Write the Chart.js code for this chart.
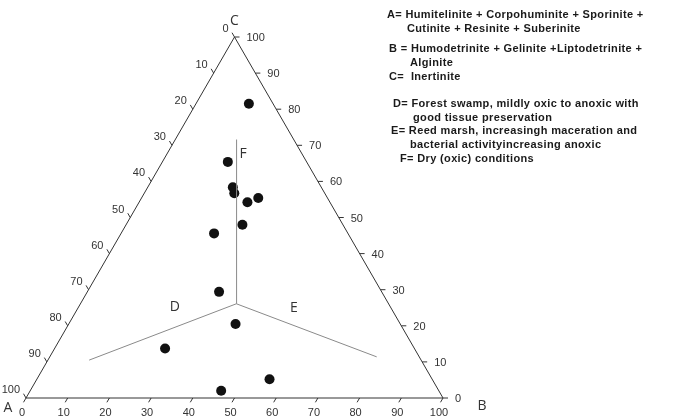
<!DOCTYPE html>
<html>
<head>
<meta charset="utf-8">
<script src="https://cdn.jsdelivr.net/npm/chart.js@4.4.1/dist/chart.umd.min.js"></script>
<style>
  body { margin: 0; background: #fff; }
  canvas { display: block; }
</style>
</head>
<body>
<canvas id="ternaryChart" width="685" height="418"></canvas>
<script>
// tick labels on each side of the triangle
const axisTicks = [0, 10, 20, 30, 40, 50, 60, 70, 80, 90, 100];

// samples, in % of A, B, C
const sampleA = [5.8, 18.9, 21.2, 21.7, 19.8, 16.6, 24.1, 32.1, 39.0, 39.5, 59.8, 52.2, 39.0];
const sampleB = [12.7, 15.7, 20.4, 21.6, 26.0, 28.0, 27.9, 22.3, 31.6, 40.0, 26.5, 45.8, 55.8];
const sampleC = [81.5, 65.4, 58.4, 56.7, 54.2, 55.4, 48.0, 45.6, 29.4, 20.5, 13.7, 2.0, 5.2];

// facies field boundaries: all start at a common junction
const junctionABC = [36.5, 37.4, 26.1];
const boundaryNames = ['F', 'D', 'E'];
const boundaryEndA = [13.7, 79.6, 10.2];
const boundaryEndB = [14.7, 9.9, 78.4];
const boundaryEndC = [71.6, 10.5, 11.4];

const legendLines = [
    'A= Humitelinite + Corpohuminite + Sporinite +',
    'Cutinite + Resinite + Suberinite',
    'B = Humodetrinite + Gelinite +Liptodetrinite +',
    'Alginite',
    'C=  Inertinite',
    'D= Forest swamp, mildly oxic to anoxic with',
    'good tissue preservation',
    'E= Reed marsh, increasingh maceration and',
    'bacterial activityincreasing anoxic',
    'F= Dry (oxic) conditions'
];

const H = Math.sqrt(3) / 2;
function tern(a, b, c) {
    const s = a + b + c;
    return { x: (b + c / 2) / s * 100, y: (c / s) * 100 * H };
}

const samples = sampleA.map((a, i) => tern(a, sampleB[i], sampleC[i]));
const junction = tern(junctionABC[0], junctionABC[1], junctionABC[2]);
const boundarySets = boundaryNames.map((name, i) => ({
    label: 'boundary ' + name,
    data: [junction, tern(boundaryEndA[i], boundaryEndB[i], boundaryEndC[i])],
    showLine: true,
    borderColor: '#8a8a8a',
    borderWidth: 1,
    pointRadius: 0,
    clip: false
}));

const frame = {
    label: 'frame',
    data: [tern(100, 0, 0), tern(0, 100, 0), tern(0, 0, 100), tern(100, 0, 0)],
    showLine: true,
    borderColor: '#333',
    borderWidth: 1,
    pointRadius: 0,
    clip: false
};

const ternaryDecor = {
    id: 'ternaryDecor',
    afterDatasetsDraw(chart) {
        const { ctx, scales: { x, y } } = chart;
        const px = (a, b, c) => {
            const p = tern(a, b, c);
            return { x: x.getPixelForValue(p.x), y: y.getPixelForValue(p.y) };
        };
        ctx.save();
        ctx.strokeStyle = '#333';
        ctx.lineWidth = 1;
        ctx.fillStyle = '#333';
        ctx.font = '11px "Liberation Sans", Arial, sans-serif';

        axisTicks.forEach(v => {
            // bottom side: B %
            let p = px(100 - v, v, 0);
            ctx.beginPath();
            ctx.moveTo(p.x, p.y);
            ctx.lineTo(p.x - 2.5, p.y + 4.3);
            ctx.stroke();
            ctx.textAlign = 'center';
            ctx.textBaseline = 'middle';
            ctx.fillText(String(v), p.x - 4, 413);

            // left side: A %
            p = px(v, 0, 100 - v);
            ctx.beginPath();
            ctx.moveTo(p.x, p.y);
            ctx.lineTo(p.x - 2.5, p.y - 4.3);
            ctx.stroke();
            ctx.textAlign = 'right';
            ctx.fillText(String(v), p.x - 6, p.y - 8);

            // right side: C %
            p = px(0, 100 - v, v);
            ctx.beginPath();
            ctx.moveTo(p.x, p.y);
            ctx.lineTo(p.x + 5, p.y);
            ctx.stroke();
            ctx.textAlign = 'left';
            ctx.fillText(String(v), p.x + 12, p.y + 1);
        });

        // corner and field letters
        ctx.font = '14px "Open Sans", "Noto Sans", sans-serif';
        ctx.textAlign = 'center';
        ctx.textBaseline = 'middle';
        const pa = px(100, 0, 0), pb = px(0, 100, 0), pc = px(0, 0, 100);
        ctx.fillText('A', pa.x - 18, pa.y + 10);
        ctx.fillText('B', pb.x + 39, pb.y + 8);
        ctx.fillText('C', pc.x, pc.y - 16);
        const fd = px(51.7, 23.1, 25.2), fe = px(23.3, 51.8, 24.9), ff = px(14.2, 18.3, 67.5);
        ctx.fillText('D', fd.x, fd.y);
        ctx.fillText('E', fe.x, fe.y);
        ctx.fillText('F', ff.x, ff.y);

        // legend text
        ctx.fillStyle = '#1a1a1a';
        ctx.font = 'bold 11px "Liberation Sans", Arial, sans-serif';
        ctx.textAlign = 'left';
        ctx.textBaseline = 'middle';
        if ('letterSpacing' in ctx) ctx.letterSpacing = '0.35px';
        const lx = [387, 407, 389, 410, 389, 393, 413, 391, 410, 400];
        const ly = [15, 28.5, 49, 62.5, 77, 104, 117.5, 131, 145, 158.5];
        legendLines.forEach((t, i) => ctx.fillText(t, lx[i], ly[i]));
        ctx.restore();
    }
};

new Chart(document.getElementById('ternaryChart').getContext('2d'), {
    type: 'scatter',
    data: {
        datasets: [
            frame,
            ...boundarySets,
            {
                label: 'samples',
                data: samples,
                backgroundColor: '#111',
                borderColor: '#111',
                pointRadius: 5,
                borderWidth: 0,
                clip: false
            }
        ]
    },
    options: {
        responsive: false,
        animation: false,
        layout: { padding: { left: 26, right: 242, top: 37, bottom: 20 } },
        plugins: {
            legend: { display: false },
            tooltip: { enabled: false }
        },
        scales: {
            x: { type: 'linear', min: 0, max: 100, display: false },
            y: { type: 'linear', min: 0, max: 100 * H, display: false }
        }
    },
    plugins: [ternaryDecor]
});
</script>
</body>
</html>
